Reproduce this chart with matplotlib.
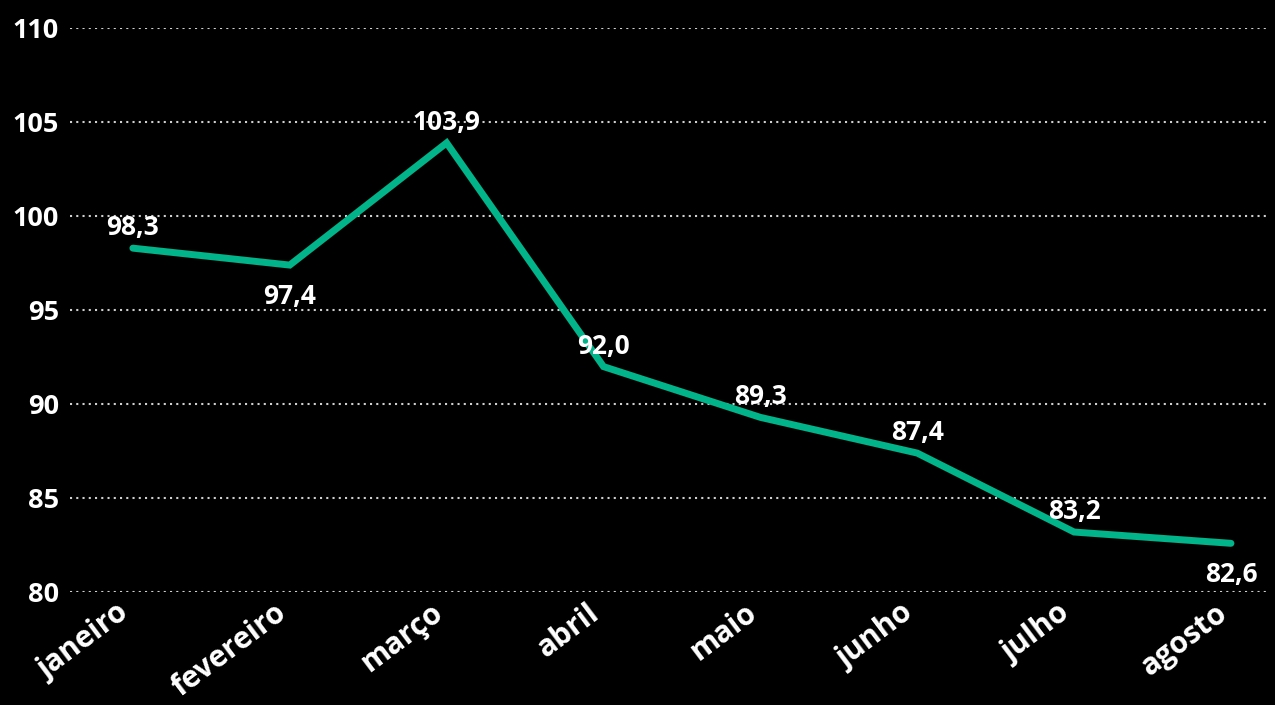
import matplotlib.pyplot as plt
from matplotlib.transforms import ScaledTranslation

# Dados
meses = ['janeiro', 'fevereiro', 'março', 'abril', 'maio', 'junho', 'julho', 'agosto']
valores = [98.3, 97.4, 103.9, 92.0, 89.3, 87.4, 83.2, 82.6]
posicao_rotulo = ['up', 'down', 'up', 'up', 'up', 'up', 'up', 'down']
y_ticks = [80, 85, 90, 95, 100, 105, 110]

plt.rcParams['font.family'] = ['Open Sans', 'DejaVu Sans']

fig = plt.figure(figsize=(12.75, 7.05), dpi=100, facecolor='black')
ax = fig.add_axes([0.055, 0.16, 0.94, 0.8])
ax.set_facecolor('black')

x = list(range(len(meses)))
ax.plot(x, valores, color='#01B48A', linewidth=5, solid_capstyle='round',
        solid_joinstyle='miter', zorder=3)

# Rótulos de dados
for xi, v, pos in zip(x, valores, posicao_rotulo):
    texto = f'{v:.1f}'.replace('.', ',')
    if pos == 'up':
        ax.annotate(texto, (xi, v), xytext=(0, 5), textcoords='offset points',
                    ha='center', va='bottom', color='white', fontsize=19,
                    fontweight='bold', zorder=4)
    else:
        ax.annotate(texto, (xi, v), xytext=(0, -13), textcoords='offset points',
                    ha='center', va='top', color='white', fontsize=19,
                    fontweight='bold', zorder=4)

ax.set_ylim(80, 110)
ax.set_xlim(-0.4, 7.24)
ax.set_yticks(y_ticks)
ax.set_yticklabels([str(t) for t in y_ticks])
ax.set_xticks(x)
ax.set_xticklabels(meses, rotation=37, ha='right', rotation_mode='anchor')

ax.tick_params(axis='y', colors='white', labelsize=19.5, length=0, pad=8)
ax.tick_params(axis='x', colors='white', labelsize=21.5, length=0, pad=4)
for lbl in ax.get_xticklabels() + ax.get_yticklabels():
    lbl.set_fontweight('bold')

deslocamento = ScaledTranslation(-16 / 100, 0, fig.dpi_scale_trans)
for lbl in ax.get_xticklabels():
    lbl.set_transform(lbl.get_transform() + deslocamento)

ax.grid(axis='y', color='#d0d0d0', linestyle=(0, (1, 2)), linewidth=1.5)
ax.set_axisbelow(True)
for s in ax.spines.values():
    s.set_visible(False)

plt.savefig('out.png', dpi=100, facecolor='black')
